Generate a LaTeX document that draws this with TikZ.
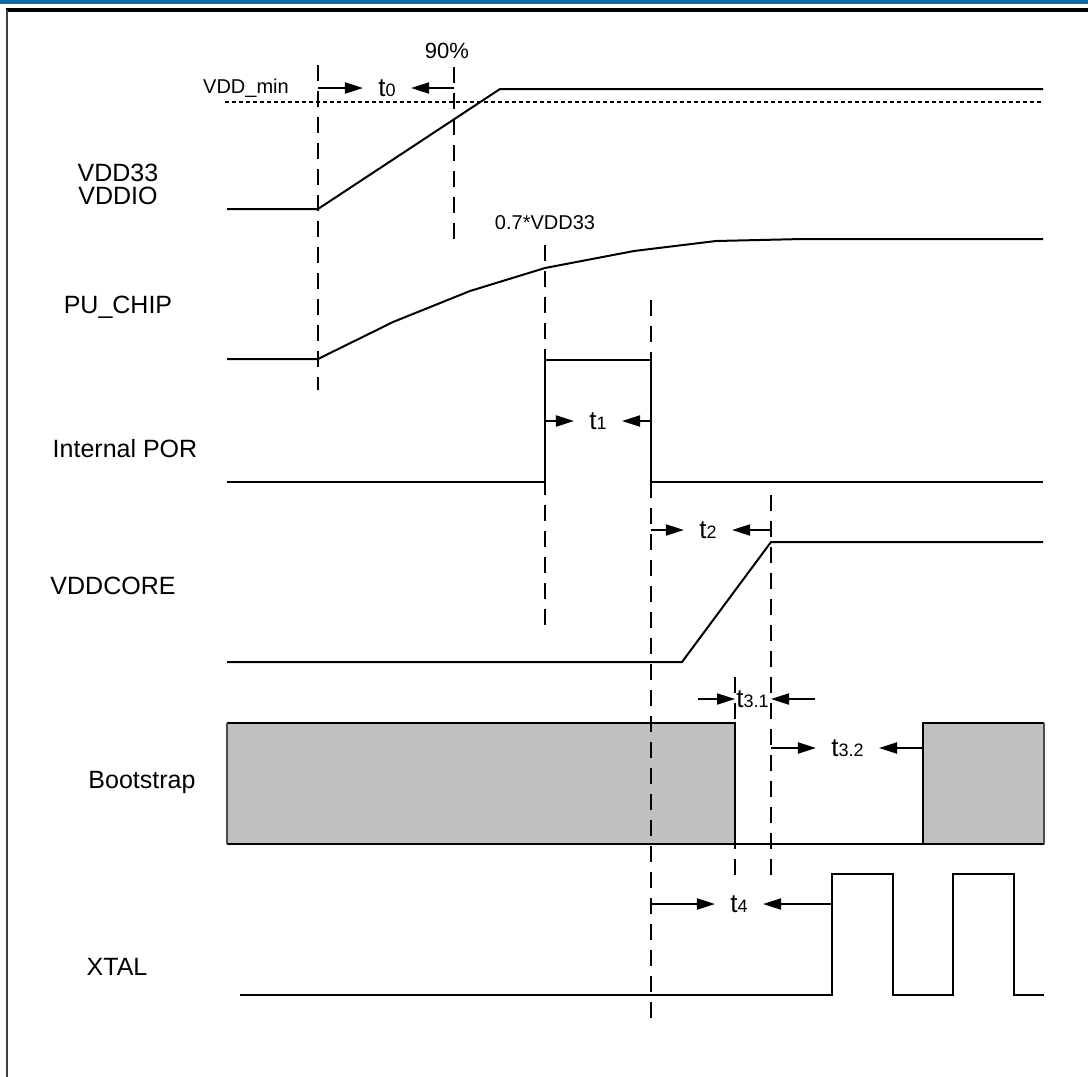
\documentclass[tikz,border=0pt]{standalone}
\usepackage{fontspec}
\setmainfont{Liberation Sans}
\usetikzlibrary{arrows.meta}
\definecolor{framebl}{RGB}{14,106,155}
\definecolor{bootgray}{RGB}{192,192,192}
\tikzset{
  sig/.style={line width=1pt},
  guide/.style={line width=1pt, dash pattern=on 8pt off 5pt},
  vmin/.style={line width=1pt, dash pattern=on 2pt off 1.5pt},
  dim/.style={line width=1pt, -{Triangle[length=9pt,width=5.5pt]}},
  signame/.style={font=\fontsize{12.5}{15}\selectfont, inner sep=0pt},
  small/.style={font=\fontsize{10}{12}\selectfont, inner sep=0pt},
  tlab/.style={font=\fontsize{13}{15}\selectfont, inner xsep=7.5pt, inner ysep=0pt},
}
\newcommand{\tsub}[2]{#1{\fontsize{9}{9}\selectfont #2}}

\begin{document}
\begin{tikzpicture}[x=0.5pt,y=-0.5pt]
\useasboundingbox (0,0) rectangle (1088,1077);
% frame
\fill[framebl] (0,0) rectangle (1088,3.5);
\draw[line width=2pt] (6,10) -- (1088,10);
\draw[line width=1pt, black!75] (7,10) -- (7,1077);

% signal names
\node[signame] (vdd33) at (118,173) {VDD33};
\node[signame] (vddio) at (118,196) {VDDIO};
\node[signame] (puchip) at (118,307) {PU\_CHIP};
\node[signame] (por) at (125,449) {Internal POR};
\node[signame] (vddcore) at (113,586) {VDDCORE};
\node[signame] (boot) at (142,782) {Bootstrap};
\node[signame] (xtal) at (117,967) {XTAL};

% bootstrap blocks
\filldraw[bootgray] (227,723) rectangle (735,844);
\filldraw[bootgray] (923,723) rectangle (1044,844);
\draw[sig] (227,723) -- (735,723) -- (735,844);
\draw[sig] (923,844) -- (923,723) -- (1044,723);
\draw[sig] (227,844) -- (1044,844);
\draw[line width=0.6pt, black!70] (227,723) -- (227,844) (1044,723) -- (1044,844);

% waveforms
\draw[vmin] (225,102) -- (1043,102);
\draw[sig] (227,209) -- (318,209) -- (500,89) -- (1043,89);
\draw[sig] (227,359) -- (318,359) -- (393,322) -- (470,291) -- (545,268)
  -- (634,251) -- (716,241) -- (803,239) -- (1043,239);
\draw[sig] (227,482) -- (545,482) -- (545,360) -- (651,360) -- (651,482) -- (1043,482);
\draw[sig] (227,662) -- (682,662) -- (771,542) -- (1043,542);
\draw[sig] (240,995) -- (832,995) -- (832,874) -- (893,874) -- (893,995)
  -- (953,995) -- (953,874) -- (1014,874) -- (1014,995) -- (1044,995);

% guide lines
\draw[guide] (318,65) -- (318,390);
\draw[guide] (454,67) -- (454,242);
\draw[guide] (545,245) -- (545,632);
\draw[guide] (651,300) -- (651,1027);
\draw[guide] (735,677) -- (735,875);
\draw[guide] (771,495) -- (771,875);

% level labels
\node[small] (vmin) at (246,88) {VDD\_min};
\node[font=\fontsize{11}{12}\selectfont, inner sep=0pt] (pct) at (447,51) {90\%};
\node[small] (seven) at (545,223) {0.7*VDD33};

% timing intervals
\node[tlab] (t0) at (387,88) {\tsub{t}{0}};
\draw[dim] (318,88) -- (t0.west);
\draw[dim] (454,88) -- (t0.east);

\node[tlab] (t1) at (598,421) {\tsub{t}{1}};
\draw[dim] (545,421) -- (t1.west);
\draw[dim] (651,421) -- (t1.east);

\node[tlab] (t2) at (708,530) {\tsub{t}{2}};
\draw[dim] (651,530) -- (t2.west);
\draw[dim] (771,530) -- (t2.east);

\node[tlab, inner xsep=0pt] (t31) at (752.5,699) {\tsub{t}{3.1}};
\coordinate (a31) at (698,699);
\coordinate (b31) at (815,699);
\draw[dim] (a31) -- (735,699);
\draw[dim] (b31) -- (771,699);

\node[tlab] (t32) at (847.5,748) {\tsub{t}{3.2}};
\draw[dim] (771,748) -- (t32.west);
\draw[dim] (923,748) -- (t32.east);

\node[tlab] (t4) at (739,904) {\tsub{t}{4}};
\draw[dim] (651,904) -- (t4.west);
\draw[dim] (832,904) -- (t4.east);
\end{tikzpicture}
\end{document}
